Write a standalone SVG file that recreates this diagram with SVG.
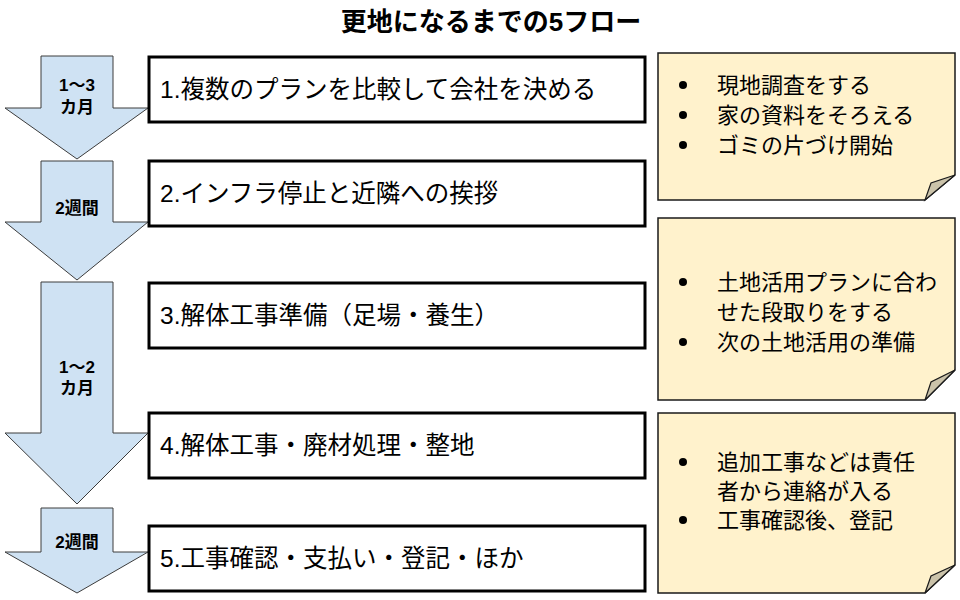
<svg xmlns="http://www.w3.org/2000/svg" width="960" height="600" viewBox="0 0 960 600">
<style>
text{font-family:"Liberation Sans","Noto Sans CJK JP",sans-serif;fill:#000}
.title{font-size:26px;font-weight:bold}
.arr{fill:#cfe2f3;stroke:#3c3c3c;stroke-width:1}
.lbl{font-size:17px;font-weight:bold}
.box{fill:#fff;stroke:#000;stroke-width:3}
.bt{font-size:24.5px}
.note{fill:#fff2cc;stroke:#1a1a1a;stroke-width:1.5}
.fold{fill:#cbc3aa;stroke:#1a1a1a;stroke-width:1.2}
.nt{font-size:22px}
</style>
<rect width="960" height="600" fill="#fff"/>
<text class="title" x="491" y="31" text-anchor="middle">更地になるまでの5フロー</text>
<g id="connectors">
<g id="arrow1"><polygon class="arr" points="41,56 113,56 113,108 148,108 77,159 5,108 41,108"/>
<text class="lbl" x="77" y="91" text-anchor="middle">1～3</text><text class="lbl" x="77" y="113" text-anchor="middle">カ月</text></g>
<g id="arrow2"><polygon class="arr" points="41,161 113,161 113,222 148,222 77,280 5,222 41,222"/>
<text class="lbl" x="77" y="214" text-anchor="middle">2週間</text></g>
<g id="arrow3"><polygon class="arr" points="41,282 113,282 113,433 148,433 77,504 5,433 41,433"/>
<text class="lbl" x="77" y="373" text-anchor="middle">1～2</text><text class="lbl" x="77" y="394" text-anchor="middle">カ月</text></g>
<g id="arrow4"><polygon class="arr" points="41,508 113,508 113,552 148,552 77,593 5,552 41,552"/>
<text class="lbl" x="77" y="548" text-anchor="middle">2週間</text></g>
</g>
<g id="step1"><rect class="box" x="149" y="57" width="496" height="65"/><text class="bt" x="160" y="98">1.複数のプランを比較して会社を決める</text></g>
<g id="step2"><rect class="box" x="149" y="161" width="496" height="65"/><text class="bt" x="160" y="202">2.インフラ停止と近隣への挨拶</text></g>
<g id="step3"><rect class="box" x="149" y="283" width="496" height="65"/><text class="bt" x="160" y="324">3.解体工事準備（足場・養生）</text></g>
<g id="step4"><rect class="box" x="149" y="413" width="496" height="65"/><text class="bt" x="160" y="454">4.解体工事・廃材処理・整地</text></g>
<g id="step5"><rect class="box" x="149" y="526" width="496" height="65"/><text class="bt" x="160" y="567">5.工事確認・支払い・登記・ほか</text></g>
<g id="note1"><polygon class="note" points="658,53 955,53 955,175 925,200 658,200"/><polygon class="fold" points="925,200 931,183 955,175"/>
<circle cx="683" cy="85" r="4"/><circle cx="683" cy="115" r="4"/><circle cx="683" cy="145" r="4"/>
<text class="nt" x="717" y="93">現地調査をする</text><text class="nt" x="717" y="123">家の資料をそろえる</text><text class="nt" x="717" y="153">ゴミの片づけ開始</text></g>
<g id="note2"><polygon class="note" points="658,218 955,218 955,370 925,400 658,400"/><polygon class="fold" points="925,400 931,382 955,370"/>
<circle cx="683" cy="282" r="4"/><circle cx="683" cy="342" r="4"/>
<text class="nt" x="717" y="290">土地活用プランに合わ</text><text class="nt" x="717" y="320">せた段取りをする</text><text class="nt" x="717" y="350">次の土地活用の準備</text></g>
<g id="note3"><polygon class="note" points="658,413 955,413 955,565 925,593 658,593"/><polygon class="fold" points="925,593 931,576 955,565"/>
<circle cx="683" cy="462" r="4"/><circle cx="683" cy="520" r="4"/>
<text class="nt" x="717" y="470">追加工事などは責任</text><text class="nt" x="717" y="499">者から連絡が入る</text><text class="nt" x="717" y="528">工事確認後、登記</text></g>
</svg>
